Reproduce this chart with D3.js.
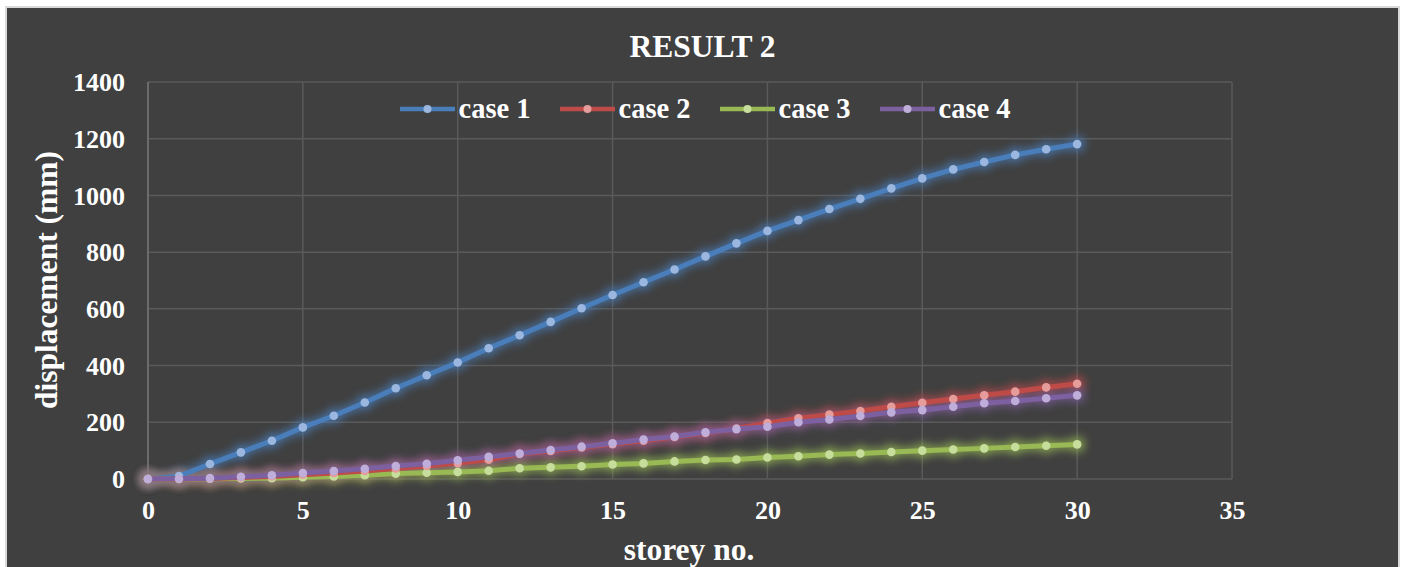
<!DOCTYPE html>
<html><head><meta charset="utf-8">
<script src="https://cdnjs.cloudflare.com/ajax/libs/d3/7.8.5/d3.min.js"></script>
<style>
html,body{margin:0;padding:0;background:#ffffff;}
svg text{font-family:"Liberation Serif","Times New Roman",serif;font-weight:bold;fill:#ffffff;}
</style></head>
<body><svg id="c" width="1403" height="567"></svg>
<script>
const storeys = d3.range(0, 31);
const case1 = [0,10,53,94,135,182,223,270,320,366,411,461,507,554,602,649,694,739,785,831,875,913,952,988,1025,1060,1092,1118,1143,1163,1181];
const case2 = [0,0,2,5,9,15,21,28,37,46,56,68,88,99,111,123,135,148,162,178,197,214,227,240,255,269,282,295,308,323,336];
const case3 = [0,0,1,2,3,6,9,13,19,22,25,29,38,41,45,51,55,62,67,69,76,80,86,90,95,100,104,108,113,117,122];
const case4 = [0,1,3,8,13,21,28,36,46,54,66,78,90,102,114,126,139,150,165,176,184,200,210,222,235,243,255,267,275,285,295];
const seriesNames = ["case 1","case 2","case 3","case 4"];
const seriesValues = [case1, case2, case3, case4];
const lineColors = ["#4a7ebb","#be4b48","#98b954","#7d60a0"];
const markerColors = ["#9bb7e0","#e59c9a","#c6dd9c","#bfaed9"];
const xTicks = [0,5,10,15,20,25,30,35];
const yTicks = [0,200,400,600,800,1000,1200,1400];

const svg = d3.select("#c");
svg.append("rect").attr("x",6).attr("y",7).attr("width",1393).attr("height",570)
  .attr("fill","#404040").attr("stroke","#d9d9d9").attr("stroke-width",2);

const x = d3.scaleLinear().domain([0,35]).range([148,1232]);
const y = d3.scaleLinear().domain([0,1400]).range([479,82]);

const defs = svg.append("defs");
const f = defs.append("filter").attr("id","glow").attr("x","-5%").attr("y","-20%").attr("width","110%").attr("height","140%");
f.append("feGaussianBlur").attr("stdDeviation",4.5);

svg.append("g").selectAll("line").data(yTicks).join("line")
  .attr("x1",x(0)).attr("x2",x(35)).attr("y1",d=>y(d)).attr("y2",d=>y(d))
  .attr("stroke","#5a5a5a").attr("stroke-width",1.5);
svg.append("g").selectAll("line").data(xTicks.slice(1)).join("line")
  .attr("x1",d=>x(d)).attr("x2",d=>x(d)).attr("y1",y(0)).attr("y2",y(1400))
  .attr("stroke","#5a5a5a").attr("stroke-width",1.5);
svg.append("line").attr("x1",x(0)).attr("x2",x(0)).attr("y1",y(0)).attr("y2",y(1400))
  .attr("stroke","#7a7a7a").attr("stroke-width",1.5);

const yAxis = svg.append("g").attr("transform",`translate(${x(0)-23},0)`)
  .call(d3.axisLeft(y).tickValues(yTicks).tickSize(0).tickFormat(d3.format("d")));
yAxis.select(".domain").remove();
yAxis.selectAll("text").attr("font-size",26).attr("fill","#fff").attr("x",0).attr("dy","0.33em")
  .style("font-family","Liberation Serif").style("font-weight","bold");
const xAxis = svg.append("g").attr("transform",`translate(0,${y(0)+22})`)
  .call(d3.axisBottom(x).tickValues(xTicks).tickSize(0).tickFormat(d3.format("d")));
xAxis.select(".domain").remove();
xAxis.selectAll("text").attr("font-size",26).attr("fill","#fff").attr("y",0).attr("dy","0.7em")
  .style("font-family","Liberation Serif").style("font-weight","bold");

const line = d3.line().x((d,i)=>x(storeys[i])).y(d=>y(d));

seriesValues.forEach((vals,k)=>{
  const g = svg.append("g").attr("filter","url(#glow)").attr("opacity",0.75);
  g.append("path").attr("d",line(vals)).attr("fill","none").attr("stroke",lineColors[k]).attr("stroke-width",9);
  g.selectAll("circle").data(vals).join("circle").attr("cx",(d,i)=>x(storeys[i])).attr("cy",d=>y(d)).attr("r",8).attr("fill",lineColors[k]);
});
[0,2,1,3].forEach(k=>{
  const vals = seriesValues[k];
  const g = svg.append("g");
  g.append("path").attr("d",line(vals)).attr("fill","none").attr("stroke",lineColors[k])
    .attr("stroke-width",5).attr("stroke-linejoin","round");
  g.selectAll("circle").data(vals).join("circle").attr("cx",(d,i)=>x(storeys[i])).attr("cy",d=>y(d))
    .attr("r",4.3).attr("fill",markerColors[k]);
});

svg.append("text").attr("x",702.5).attr("y",57).attr("text-anchor","middle").attr("font-size",31.5).text("RESULT 2");

const legX = [400,560,720,880];
seriesNames.forEach((n,k)=>{
  const g = svg.append("g");
  g.append("line").attr("x1",legX[k]).attr("x2",legX[k]+55).attr("y1",109).attr("y2",109)
    .attr("stroke",lineColors[k]).attr("stroke-width",4.5);
  g.append("circle").attr("cx",legX[k]+27.5).attr("cy",109).attr("r",4).attr("fill",markerColors[k]);
  g.append("text").attr("x",legX[k]+58.5).attr("y",118).attr("font-size",28.5).text(n);
});

svg.append("text").attr("transform","translate(57,280) rotate(-90)").attr("text-anchor","middle")
  .attr("font-size",31.5).text("displacement (mm)");
svg.append("text").attr("x",689).attr("y",560).attr("text-anchor","middle").attr("font-size",31.5).text("storey no.");
</script></body></html>
